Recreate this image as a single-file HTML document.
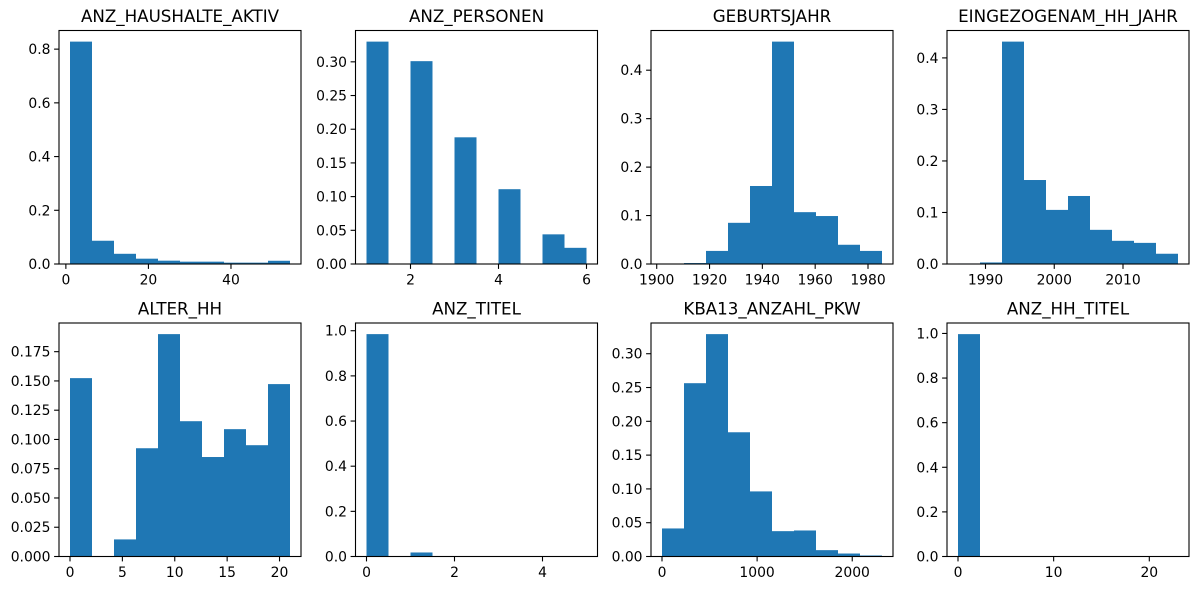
<!DOCTYPE html>
<html><head><meta charset="utf-8">
<style>
html,body{margin:0;padding:0;background:#fff;}
svg{display:block;font-family:"DejaVu Sans","Liberation Sans",sans-serif;}
</style></head>
<body>
<svg id="fig" width="1198" height="590" viewBox="0 0 1198 590" xmlns="http://www.w3.org/2000/svg"></svg>
<script>
const titles = ["ANZ_HAUSHALTE_AKTIV","ANZ_PERSONEN","GEBURTSJAHR","EINGEZOGENAM_HH_JAHR","ALTER_HH","ANZ_TITEL","KBA13_ANZAHL_PKW","ANZ_HH_TITEL"];
const binStart = [1, 1, 1902, 1986, 0, 0, 0, 0];
const binEnd = [54.3, 6, 1985.3, 2018, 21, 5, 2313, 23];
const vals0 = [0.828,0.0866,0.038,0.0198,0.0124,0.0087,0.0087,0.005,0.005,0.012];
const vals1 = [0.330,0,0.301,0,0.188,0,0.111,0,0.044,0.024];
const vals2 = [0,0.002,0.027,0.085,0.161,0.459,0.107,0.099,0.0397,0.027];
const vals3 = [0.001,0.003,0.4316,0.163,0.105,0.132,0.0663,0.045,0.041,0.0199];
const vals4 = [0.1524,0,0.0146,0.0925,0.190,0.1156,0.085,0.1088,0.0951,0.1473];
const vals5 = [0.985,0,0.0178,0,0,0,0,0,0,0];
const vals6 = [0.0415,0.2564,0.329,0.1838,0.0963,0.0375,0.0385,0.0094,0.0044,0.0015];
const vals7 = [0.997,0.002,0.0005,0,0,0,0,0,0,0];
const xTicks0 = [0,20,40];
const xTicks1 = [2,4,6];
const xTicks2 = [1900,1920,1940,1960,1980];
const xTicks3 = [1990,2000,2010];
const xTicks4 = [0,5,10,15,20];
const xTicks5 = [0,2,4];
const xTicks6 = [0,1000,2000];
const xTicks7 = [0,10,20];
const yTicks0 = ["0.0","0.2","0.4","0.6","0.8"];
const yTicks1 = ["0.00","0.05","0.10","0.15","0.20","0.25","0.30"];
const yTicks2 = ["0.0","0.1","0.2","0.3","0.4"];
const yTicks3 = ["0.0","0.1","0.2","0.3","0.4"];
const yTicks4 = ["0.000","0.025","0.050","0.075","0.100","0.125","0.150","0.175"];
const yTicks5 = ["0.0","0.2","0.4","0.6","0.8","1.0"];
const yTicks6 = ["0.00","0.05","0.10","0.15","0.20","0.25","0.30"];
const yTicks7 = ["0.0","0.2","0.4","0.6","0.8","1.0"];

const allVals=[vals0,vals1,vals2,vals3,vals4,vals5,vals6,vals7];
const allX=[xTicks0,xTicks1,xTicks2,xTicks3,xTicks4,xTicks5,xTicks6,xTicks7];
const allY=[yTicks0,yTicks1,yTicks2,yTicks3,yTicks4,yTicks5,yTicks6,yTicks7];

const NS="http://www.w3.org/2000/svg";
const svg=document.getElementById('fig');
function mk(tag,attrs,parent){const e=document.createElementNS(NS,tag);for(const k in attrs)e.setAttribute(k,attrs[k]);(parent||svg).appendChild(e);return e;}

const lefts=[59,355.5,651,947], tops=[30.5,323], W=242, H=233.5;
for(let p=0;p<8;p++){
  const L=lefts[p%4], T=tops[Math.floor(p/4)];
  const vals=allVals[p], a=binStart[p], b=binEnd[p];
  const w=b-a, xmin=a-0.05*w, xmax=b+0.05*w;
  const vmax=Math.max(...vals), ymax=vmax*1.05;
  const sx=v=>L+(v-xmin)/(xmax-xmin)*W;
  const sy=v=>T+H-(v/ymax)*H;
  const g=mk('g',{});
  
  
  const bw=w/vals.length;
  vals.forEach((v,i)=>{
    if(v<=0) return;
    const x0=sx(a+i*bw), x1=sx(a+(i+1)*bw);
    const r=mk('rect',{x:x0,y:sy(v),width:x1-x0,height:sy(0)-sy(v),fill:'#1f77b4'},g);
    
    
  });
  const fr=mk('rect',{x:L,y:T,width:W,height:H,fill:'none',stroke:'#000','stroke-width':1.1},g);
  
  
  allX[p].forEach(t=>{
    const x=sx(t);
    mk('line',{x1:x,x2:x,y1:T+H,y2:T+H+4.9,stroke:'#000','stroke-width':1.1},g);
    const tx=mk('text',{x:x,y:T+H+20.5,'font-size':13.9,'text-anchor':'middle',fill:'#000'},g);
    tx.textContent=String(t);
    
    
  });
  allY[p].forEach(s=>{
    const y=sy(parseFloat(s));
    mk('line',{x1:L-4.9,x2:L,y1:y,y2:y,stroke:'#000','stroke-width':1.1},g);
    const tx=mk('text',{x:L-8.5,y:y+5,'font-size':13.9,'text-anchor':'end',fill:'#000'},g);
    tx.textContent=s;
    
    
  });
  const tt=mk('text',{x:L+W/2,y:T-8.5,'font-size':16.7,'text-anchor':'middle',fill:'#000'},g);
  tt.textContent=titles[p];
  
  
}
</script>
</body></html>
